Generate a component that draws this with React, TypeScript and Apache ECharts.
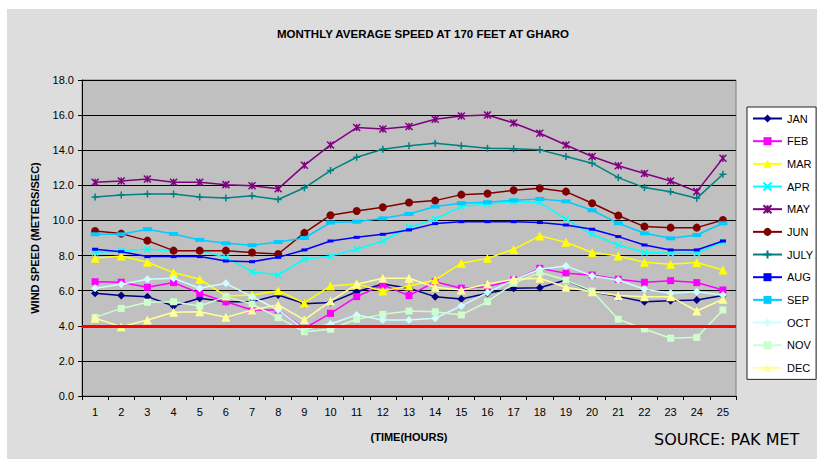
import React, { useEffect, useRef } from "react";
import * as echarts from "echarts";

const hours = ["1","2","3","4","5","6","7","8","9","10","11","12","13","14","15","16","17","18","19","20","21","22","23","24","25"];
const JAN = [5.85, 5.72, 5.66, 5.13, 5.57, 5.37, 5.37, 5.75, 5.26, 5.32, 5.94, 6.38, 6.14, 5.66, 5.53, 5.85, 6.14, 6.17, 6.61, 5.94, 5.66, 5.37, 5.43, 5.47, 5.72];
const FEB = [6.51, 6.48, 6.19, 6.46, 5.85, 5.37, 4.9, 4.9, 3.85, 4.71, 5.66, 6.32, 5.72, 6.51, 6.14, 6.23, 6.61, 7.27, 6.99, 6.89, 6.65, 6.48, 6.57, 6.46, 6.04];
const MAR = [7.84, 7.98, 7.62, 7.03, 6.65, 5.7, 5.75, 6.0, 5.3, 6.27, 6.38, 5.98, 6.27, 6.61, 7.56, 7.84, 8.35, 9.12, 8.76, 8.17, 7.98, 7.62, 7.5, 7.6, 7.18];
const APR = [8.17, 8.28, 8.36, 8.28, 8.28, 7.9, 7.08, 6.89, 7.79, 7.98, 8.36, 8.83, 9.61, 10.08, 10.79, 10.94, 11.07, 11.02, 10.08, 9.21, 8.6, 8.17, 8.13, 8.13, 8.79];
const MAY = [12.18, 12.25, 12.36, 12.18, 12.18, 12.04, 11.98, 11.8, 13.14, 14.3, 15.29, 15.21, 15.35, 15.76, 15.95, 16.01, 15.55, 14.97, 14.3, 13.64, 13.12, 12.67, 12.25, 11.64, 13.54];
const JUN = [9.4, 9.25, 8.85, 8.28, 8.28, 8.28, 8.17, 8.09, 9.29, 10.3, 10.54, 10.75, 11.02, 11.13, 11.47, 11.53, 11.72, 11.83, 11.64, 10.98, 10.28, 9.65, 9.59, 9.59, 10.03];
const JULY = [11.34, 11.45, 11.51, 11.51, 11.34, 11.28, 11.4, 11.19, 11.86, 12.84, 13.6, 14.06, 14.25, 14.4, 14.25, 14.11, 14.09, 14.02, 13.64, 13.26, 12.44, 11.87, 11.64, 11.26, 12.63];
const AUG = [8.36, 8.22, 7.94, 7.94, 7.94, 7.69, 7.65, 7.9, 8.32, 8.83, 9.04, 9.21, 9.46, 9.82, 9.93, 9.93, 9.93, 9.88, 9.74, 9.5, 9.08, 8.6, 8.32, 8.32, 8.83];
const SEP = [9.21, 9.21, 9.5, 9.23, 8.89, 8.7, 8.59, 8.77, 9.0, 9.88, 9.93, 10.12, 10.37, 10.79, 10.98, 11.04, 11.15, 11.22, 11.09, 10.58, 9.84, 9.27, 8.98, 9.17, 9.84];
const OCT = [6.14, 6.36, 6.65, 6.71, 6.14, 6.42, 5.66, 4.9, 3.8, 4.1, 4.62, 4.33, 4.33, 4.43, 5.13, 5.89, 6.61, 7.22, 7.41, 6.84, 6.61, 6.08, 5.85, 5.94, 5.75];
const NOV = [4.48, 4.99, 5.34, 5.37, 5.13, 5.66, 5.24, 4.46, 3.66, 3.8, 4.37, 4.65, 4.84, 4.8, 4.62, 5.37, 6.42, 7.03, 6.61, 5.98, 4.37, 3.82, 3.29, 3.34, 4.9];
const DEC = [4.43, 3.95, 4.33, 4.77, 4.8, 4.48, 4.9, 5.19, 4.34, 5.41, 6.36, 6.71, 6.71, 6.19, 6.04, 6.38, 6.65, 6.71, 6.19, 5.94, 5.72, 5.66, 5.66, 4.84, 5.51];
const yTicks = [0, 18, 2];
const threshold = 4;

const FONT = "Liberation Sans, Arial, sans-serif";

const SYM_X = "path://M0,0L10,10M10,0L0,10";
const SYM_STAR = "path://M0,0L10,10M10,0L0,10M5,0L5,10";
const SYM_PLUS = "path://M5,0L5,10M0,5L10,5";

const seriesDefs = [
  { name: "JAN", data: JAN, color: "#000080", symbol: "diamond", size: 8 },
  { name: "FEB", data: FEB, color: "#FF00FF", symbol: "rect", size: 7 },
  { name: "MAR", data: MAR, color: "#FFFF00", symbol: "triangle", size: 9 },
  { name: "APR", data: APR, color: "#00FFFF", symbol: SYM_X, size: 6, stroke: true },
  { name: "MAY", data: MAY, color: "#800080", symbol: SYM_STAR, size: 7, stroke: true },
  { name: "JUN", data: JUN, color: "#800000", symbol: "circle", size: 8 },
  { name: "JULY", data: JULY, color: "#008080", symbol: SYM_PLUS, size: 7, stroke: true },
  { name: "AUG", data: AUG, color: "#0000FF", symbol: "rect", size: [6, 3] },
  { name: "SEP", data: SEP, color: "#00CCFF", symbol: "rect", size: [9, 4] },
  { name: "OCT", data: OCT, color: "#CCFFFF", symbol: "diamond", size: 8 },
  { name: "NOV", data: NOV, color: "#CCFFCC", symbol: "rect", size: 7 },
  { name: "DEC", data: DEC, color: "#FFFF99", symbol: "triangle", size: 9 },
];

export default function App() {
  const ref = useRef<HTMLDivElement>(null);
  useEffect(() => {
    if (!ref.current) return;
    const chart = echarts.init(ref.current, null, { renderer: "svg" });
    const series: any[] = seriesDefs.map((s, i) => {
      const o: any = {
        name: s.name,
        type: "line",
        data: s.data,
        symbol: s.symbol,
        symbolSize: s.size,
        showAllSymbol: true,
        lineStyle: { color: s.color, width: 1.5 },
        itemStyle: s.stroke
          ? { color: s.color, borderColor: s.color, borderWidth: 1.5 }
          : { color: s.color, borderWidth: 0 },
        emphasis: { disabled: true },
        z: 2 + i * 0.01,
      };
      if (i === seriesDefs.length - 1) {
        o.markLine = {
          silent: true,
          symbol: "none",
          label: { show: false },
          lineStyle: { color: "#FF0000", width: 3, type: "solid" },
          data: [{ yAxis: threshold }],
          z: 10,
        };
      }
      return o;
    });
    chart.setOption({
      animation: false,
      backgroundColor: "#DDDDDD",
      textStyle: { fontFamily: FONT },
      title: {
        text: "MONTHLY AVERAGE SPEED AT 170 FEET AT GHARO",
        left: 418,
        top: 23,
        textAlign: "center",
        textStyle: { fontSize: 11.5, fontWeight: "bold", color: "#000", fontFamily: FONT },
      },
      legend: {
        orient: "vertical",
        left: 747,
        top: 107,
        padding: [6, 3, 6, 5],
        itemGap: 11.67,
        itemWidth: 29,
        itemHeight: 10,
        backgroundColor: "#FFFFFF",
        borderColor: "#222",
        borderWidth: 1,
        borderRadius: 0,
        textStyle: { fontSize: 11, color: "#000", fontFamily: FONT },
        data: seriesDefs.map((s) => s.name),
      },
      grid: {
        left: 82,
        top: 80,
        right: 81,
        bottom: 63,
        show: true,
        backgroundColor: "#C0C0C0",
        borderColor: "#808080",
        borderWidth: 1,
        containLabel: false,
      },
      xAxis: {
        type: "category",
        data: hours,
        boundaryGap: true,
        name: "(TIME(HOURS)",
        nameLocation: "middle",
        nameGap: 35,
        nameTextStyle: { fontSize: 11, fontWeight: "bold", color: "#000", fontFamily: FONT },
        axisLine: { lineStyle: { color: "#000", width: 1 } },
        axisTick: { show: true, length: 4, inside: false, lineStyle: { color: "#000" } },
        axisLabel: { fontSize: 11, color: "#000", margin: 10, interval: 0 },
        splitLine: { show: false },
      },
      yAxis: {
        type: "value",
        min: yTicks[0],
        max: yTicks[1],
        interval: yTicks[2],
        name: "WIND SPEED (METERS/SEC)",
        nameLocation: "middle",
        nameGap: 42,
        nameTextStyle: { fontSize: 11, fontWeight: "bold", color: "#000", fontFamily: FONT },
        axisLine: { show: true, lineStyle: { color: "#000", width: 1 } },
        axisTick: { show: true, length: 4, inside: false, lineStyle: { color: "#000" } },
        axisLabel: {
          fontSize: 11,
          color: "#000",
          margin: 8,
          formatter: (v: number) => v.toFixed(1),
        },
        splitLine: { show: true, lineStyle: { color: "#000", width: 1 } },
      },
      graphic: [
        { type: "rect", left: 0, top: 0, shape: { width: 817, height: 9 }, style: { fill: "#FFFFFF" }, silent: true },
        { type: "rect", left: 0, top: 0, shape: { width: 7, height: 459 }, style: { fill: "#FFFFFF" }, silent: true },
        {
          type: "text",
          left: 654,
          top: 431,
          style: { text: "SOURCE: PAK MET", fontSize: 16, fill: "#000", fontFamily: "DejaVu Sans, Liberation Sans, sans-serif" },
          silent: true,
        },
      ],
      series,
    });
    return () => chart.dispose();
  }, []);
  return (
    <div
      ref={ref}
      style={{ position: "fixed", left: 0, top: 0, width: 817, height: 459, background: "#fff" }}
    />
  );
}
